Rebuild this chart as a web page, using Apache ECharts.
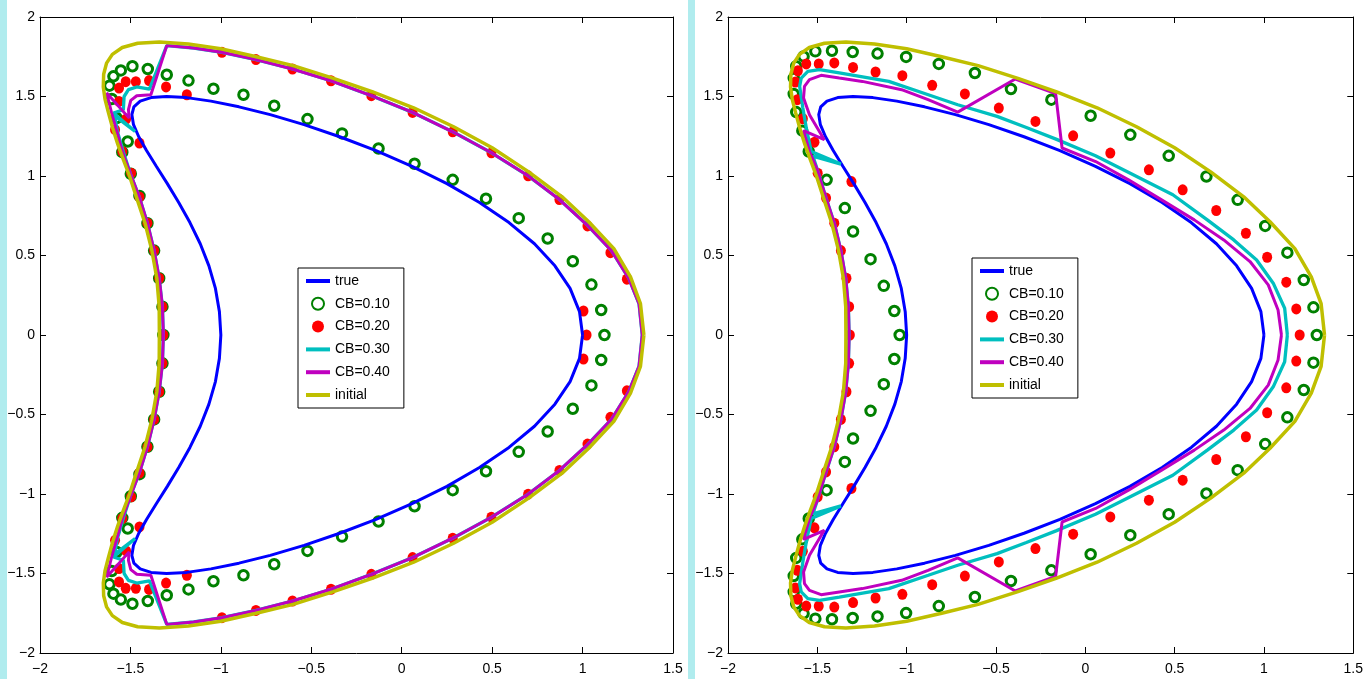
<!DOCTYPE html>
<html><head><meta charset="utf-8">
<script src="https://cdn.jsdelivr.net/npm/echarts@6/dist/echarts.min.js"></script>
<style>html,body{margin:0;padding:0;background:#fff}#c{width:1366px;height:679px}</style>
</head><body><div id="c"></div>
<script>
// ---- data ----
const xTickLabels = ['\u22122','\u22121.5','\u22121','\u22120.5','0','0.5','1','1.5'];
const yTickLabels = ['\u22122','\u22121.5','\u22121','\u22120.5','0','0.5','1','1.5','2'];

const trueCurve = [[1.000,0],[0.983,0.147],[0.931,0.293],[0.847,0.435],[0.734,0.574],[0.593,0.707],[0.430,0.833],[0.250,0.952],[0.057,1.061],[-0.142,1.160],[-0.343,1.247],[-0.540,1.323],[-0.727,1.386],[-0.900,1.435],[-1.055,1.471],[-1.189,1.493],[-1.300,1.500],[-1.386,1.493],[-1.446,1.471],[-1.481,1.435],[-1.492,1.386],[-1.483,1.323],[-1.454,1.247],[-1.411,1.160],[-1.357,1.061],[-1.296,0.952],[-1.233,0.833],[-1.171,0.707],[-1.114,0.574],[-1.066,0.435],[-1.030,0.293],[-1.008,0.147],[-1.000,0],
[-1.008,-0.147],[-1.030,-0.293],[-1.066,-0.435],[-1.114,-0.574],[-1.171,-0.707],[-1.233,-0.833],[-1.296,-0.952],[-1.357,-1.061],[-1.411,-1.160],[-1.454,-1.247],[-1.483,-1.323],[-1.492,-1.386],[-1.481,-1.435],[-1.446,-1.471],[-1.386,-1.493],[-1.300,-1.500],[-1.189,-1.493],[-1.055,-1.471],[-0.900,-1.435],[-0.727,-1.386],[-0.540,-1.323],[-0.343,-1.247],[-0.142,-1.160],[0.057,-1.061],[0.250,-0.952],[0.430,-0.833],[0.593,-0.707],[0.734,-0.574],[0.847,-0.435],[0.931,-0.293],[0.983,-0.147],[1.000,0]];

const initialCurve = [[1.339,0],[1.320,0.197],[1.265,0.365],[1.173,0.543],[1.034,0.712],[0.887,0.869],[0.702,1.026],[0.500,1.178],[0.287,1.310],[0.066,1.429],[-0.164,1.530],[-0.377,1.614],[-0.600,1.694],[-0.810,1.752],[-1.000,1.800],[-1.180,1.830],[-1.340,1.843],[-1.460,1.835],[-1.545,1.808],[-1.600,1.765],[-1.632,1.710],[-1.648,1.640],[-1.650,1.560],[-1.640,1.480],[-1.622,1.400],[-1.598,1.300],[-1.570,1.200],[-1.538,1.100],[-1.505,1.000],[-1.465,0.861],[-1.419,0.703],[-1.382,0.535],[-1.354,0.357],[-1.341,0.178],[-1.340,0],
[-1.341,-0.178],[-1.354,-0.357],[-1.382,-0.535],[-1.419,-0.703],[-1.465,-0.861],[-1.505,-1.000],[-1.538,-1.100],[-1.570,-1.200],[-1.598,-1.300],[-1.622,-1.400],[-1.640,-1.480],[-1.650,-1.560],[-1.648,-1.640],[-1.632,-1.710],[-1.600,-1.765],[-1.545,-1.808],[-1.460,-1.835],[-1.340,-1.843],[-1.180,-1.830],[-1.000,-1.800],[-0.810,-1.752],[-0.600,-1.694],[-0.377,-1.614],[-0.164,-1.530],[0.066,-1.429],[0.287,-1.310],[0.500,-1.178],[0.702,-1.026],[0.887,-0.869],[1.034,-0.712],[1.173,-0.543],[1.265,-0.365],[1.320,-0.197],[1.339,0]];

// left panel
const cb10Left = [[1.121,0],[1.103,0.157],[1.049,0.317],[0.946,0.464],[0.807,0.607],[0.647,0.735],[0.466,0.857],[0.282,0.976],[0.071,1.077],[-0.128,1.173],[-0.330,1.268],[-0.521,1.358],[-0.705,1.442],[-0.875,1.511],[-1.041,1.549],[-1.179,1.600],[-1.299,1.637],[-1.404,1.673],[-1.489,1.690],[-1.553,1.664],[-1.594,1.627],[-1.616,1.568],[-1.603,1.484],[-1.576,1.365],[-1.515,1.217],[-1.545,1.150],[-1.498,1.014],[-1.450,0.875],[-1.406,0.703],[-1.369,0.531],[-1.341,0.357],[-1.323,0.178],[-1.318,0],
[-1.323,-0.178],[-1.341,-0.357],[-1.369,-0.531],[-1.406,-0.703],[-1.450,-0.875],[-1.498,-1.014],[-1.545,-1.150],[-1.515,-1.217],[-1.576,-1.365],[-1.603,-1.484],[-1.616,-1.568],[-1.594,-1.627],[-1.553,-1.664],[-1.489,-1.690],[-1.404,-1.673],[-1.299,-1.637],[-1.179,-1.600],[-1.041,-1.549],[-0.875,-1.511],[-0.705,-1.442],[-0.521,-1.358],[-0.330,-1.268],[-0.128,-1.173],[0.071,-1.077],[0.282,-0.976],[0.466,-0.857],[0.647,-0.735],[0.807,-0.607],[0.946,-0.464],[1.049,-0.317],[1.103,-0.157]];

const cb20Left = [[1.022,0],[1.005,0.151],[1.245,0.351],[1.154,0.518],[1.027,0.686],[0.872,0.852],[0.699,1.001],[0.496,1.146],[0.282,1.278],[0.060,1.400],[-0.168,1.505],[-0.391,1.599],[-0.604,1.673],[-0.806,1.732],[-0.994,1.778],[-1.188,1.511],[-1.303,1.560],[-1.397,1.600],[-1.470,1.593],[-1.526,1.593],[-1.563,1.553],[-1.563,1.469],[-1.524,1.358],[-1.585,1.291],[-1.450,1.207],[-1.545,1.154],[-1.496,1.018],[-1.450,0.868],[-1.406,0.703],[-1.369,0.531],[-1.341,0.357],[-1.323,0.178],[-1.318,0],
[-1.323,-0.178],[-1.341,-0.357],[-1.369,-0.531],[-1.406,-0.703],[-1.450,-0.868],[-1.496,-1.018],[-1.545,-1.154],[-1.450,-1.207],[-1.585,-1.291],[-1.524,-1.358],[-1.563,-1.469],[-1.563,-1.553],[-1.526,-1.593],[-1.470,-1.593],[-1.397,-1.600],[-1.303,-1.560],[-1.188,-1.511],[-0.994,-1.778],[-0.806,-1.732],[-0.604,-1.673],[-0.391,-1.599],[-0.168,-1.505],[0.060,-1.400],[0.282,-1.278],[0.496,-1.146],[0.699,-1.001],[0.872,-0.852],[1.027,-0.686],[1.154,-0.518],[1.245,-0.351],[1.005,-0.151]];

const cb30Left = [[1.330,0],[1.312,0.197],[1.255,0.358],[1.160,0.530],[1.027,0.690],[0.872,0.852],[0.699,1.001],[0.496,1.146],[0.282,1.278],[0.060,1.400],[-0.168,1.505],[-0.391,1.599],[-0.604,1.673],[-0.806,1.732],[-0.994,1.778],[-1.150,1.805],[-1.299,1.820],[-1.395,1.547],[-1.465,1.560],[-1.511,1.543],[-1.535,1.500],[-1.539,1.417],[-1.594,1.396],[-1.474,1.280],[-1.588,1.380],[-1.572,1.280],[-1.540,1.154],[-1.500,1.014],[-1.450,0.865],[-1.406,0.703],[-1.369,0.531],[-1.341,0.357],[-1.323,0.178],[-1.318,0],
[-1.323,-0.178],[-1.341,-0.357],[-1.369,-0.531],[-1.406,-0.703],[-1.450,-0.865],[-1.500,-1.014],[-1.540,-1.154],[-1.572,-1.280],[-1.588,-1.380],[-1.474,-1.280],[-1.594,-1.396],[-1.539,-1.417],[-1.535,-1.500],[-1.511,-1.543],[-1.465,-1.560],[-1.395,-1.547],[-1.299,-1.820],[-1.150,-1.805],[-0.994,-1.778],[-0.806,-1.732],[-0.604,-1.673],[-0.391,-1.599],[-0.168,-1.505],[0.060,-1.400],[0.282,-1.278],[0.496,-1.146],[0.699,-1.001],[0.872,-0.852],[1.027,-0.690],[1.160,-0.530],[1.255,-0.358],[1.312,-0.197],[1.330,0]];

const cb40Left = [[1.330,0],[1.312,0.197],[1.255,0.358],[1.160,0.530],[1.027,0.690],[0.872,0.852],[0.699,1.001],[0.496,1.146],[0.282,1.278],[0.060,1.400],[-0.168,1.505],[-0.391,1.599],[-0.604,1.673],[-0.806,1.732],[-0.994,1.778],[-1.150,1.805],[-1.299,1.820],[-1.387,1.511],[-1.465,1.505],[-1.498,1.476],[-1.511,1.417],[-1.507,1.364],[-1.631,1.522],[-1.605,1.400],[-1.575,1.280],[-1.545,1.154],[-1.500,1.014],[-1.450,0.865],[-1.406,0.703],[-1.369,0.531],[-1.341,0.357],[-1.323,0.178],[-1.318,0],
[-1.323,-0.178],[-1.341,-0.357],[-1.369,-0.531],[-1.406,-0.703],[-1.450,-0.865],[-1.500,-1.014],[-1.545,-1.154],[-1.575,-1.280],[-1.605,-1.400],[-1.631,-1.522],[-1.507,-1.364],[-1.511,-1.417],[-1.498,-1.476],[-1.465,-1.505],[-1.387,-1.511],[-1.299,-1.820],[-1.150,-1.805],[-0.994,-1.778],[-0.806,-1.732],[-0.604,-1.673],[-0.391,-1.599],[-0.168,-1.505],[0.060,-1.400],[0.282,-1.278],[0.496,-1.146],[0.699,-1.001],[0.872,-0.852],[1.027,-0.690],[1.160,-0.530],[1.255,-0.358],[1.312,-0.197],[1.330,0]];

// right panel
const cb10Right = [[1.296,0],[1.277,0.174],[1.223,0.346],[1.131,0.518],[1.007,0.686],[0.853,0.850],[0.678,0.997],[0.467,1.127],[0.252,1.259],[0.030,1.379],[-0.190,1.480],[-0.416,1.547],[-0.618,1.648],[-0.820,1.705],[-1.003,1.749],[-1.163,1.770],[-1.302,1.780],[-1.418,1.788],[-1.511,1.784],[-1.577,1.752],[-1.618,1.690],[-1.632,1.616],[-1.632,1.516],[-1.618,1.402],[-1.584,1.285],[-1.548,1.154],[-1.448,0.976],[-1.346,0.798],[-1.300,0.651],[-1.202,0.477],[-1.128,0.309],[-1.069,0.151],[-1.039,0],
[-1.069,-0.151],[-1.128,-0.309],[-1.202,-0.477],[-1.300,-0.651],[-1.346,-0.798],[-1.448,-0.976],[-1.548,-1.154],[-1.584,-1.285],[-1.618,-1.402],[-1.632,-1.516],[-1.632,-1.616],[-1.618,-1.690],[-1.577,-1.752],[-1.511,-1.784],[-1.418,-1.788],[-1.302,-1.780],[-1.163,-1.770],[-1.003,-1.749],[-0.820,-1.705],[-0.618,-1.648],[-0.416,-1.547],[-0.190,-1.480],[0.030,-1.379],[0.252,-1.259],[0.467,-1.127],[0.678,-0.997],[0.853,-0.850],[1.007,-0.686],[1.131,-0.518],[1.223,-0.346],[1.277,-0.174]];

const cb20Right = [[1.200,0],[1.181,0.164],[1.125,0.332],[1.018,0.489],[0.899,0.640],[0.733,0.783],[0.545,0.913],[0.356,1.039],[0.140,1.144],[-0.068,1.253],[-0.279,1.343],[-0.484,1.427],[-0.674,1.516],[-0.857,1.570],[-1.024,1.631],[-1.174,1.654],[-1.300,1.683],[-1.405,1.711],[-1.492,1.705],[-1.562,1.705],[-1.609,1.662],[-1.623,1.591],[-1.612,1.480],[-1.581,1.360],[-1.516,1.213],[-1.498,1.018],[-1.309,0.965],[-1.451,0.861],[-1.405,0.703],[-1.368,0.531],[-1.337,0.357],[-1.322,0.178],[-1.318,0],
[-1.322,-0.178],[-1.337,-0.357],[-1.368,-0.531],[-1.405,-0.703],[-1.451,-0.861],[-1.309,-0.965],[-1.498,-1.018],[-1.516,-1.213],[-1.581,-1.360],[-1.612,-1.480],[-1.623,-1.591],[-1.609,-1.662],[-1.562,-1.705],[-1.492,-1.705],[-1.405,-1.711],[-1.300,-1.683],[-1.174,-1.654],[-1.024,-1.631],[-0.857,-1.570],[-0.674,-1.516],[-0.484,-1.427],[-0.279,-1.343],[-0.068,-1.253],[0.140,-1.144],[0.356,-1.039],[0.545,-0.913],[0.733,-0.783],[0.899,-0.640],[1.018,-0.489],[1.125,-0.332],[1.181,-0.164]];

const cb30Right = [[1.131,0],[1.116,0.168],[1.052,0.326],[0.959,0.472],[0.831,0.598],[0.683,0.724],[0.490,0.882],[0.260,1.012],[0.057,1.127],[-0.164,1.232],[-0.330,1.305],[-0.494,1.375],[-0.714,1.448],[-0.879,1.511],[-1.100,1.595],[-1.377,1.648],[-1.488,1.669],[-1.553,1.658],[-1.590,1.616],[-1.599,1.564],[-1.581,1.428],[-1.560,1.290],[-1.534,1.154],[-1.368,1.075],[-1.525,1.125],[-1.500,1.040],[-1.451,0.861],[-1.405,0.703],[-1.368,0.531],[-1.341,0.357],[-1.326,0.178],[-1.322,0],
[-1.326,-0.178],[-1.341,-0.357],[-1.368,-0.531],[-1.405,-0.703],[-1.451,-0.861],[-1.500,-1.040],[-1.525,-1.125],[-1.368,-1.075],[-1.534,-1.154],[-1.560,-1.290],[-1.581,-1.428],[-1.599,-1.564],[-1.590,-1.616],[-1.553,-1.658],[-1.488,-1.669],[-1.377,-1.648],[-1.100,-1.595],[-0.879,-1.511],[-0.714,-1.448],[-0.494,-1.375],[-0.330,-1.305],[-0.164,-1.232],[0.057,-1.127],[0.260,-1.012],[0.490,-0.882],[0.683,-0.724],[0.831,-0.598],[0.959,-0.472],[1.052,-0.326],[1.116,-0.168],[1.131,0]];

const cb40Right = [[1.098,0],[1.079,0.157],[1.024,0.315],[0.922,0.462],[0.775,0.598],[0.610,0.724],[0.427,0.850],[0.242,0.976],[0.058,1.091],[-0.130,1.176],[-0.166,1.518],[-0.392,1.610],[-0.714,1.402],[-0.880,1.480],[-1.028,1.543],[-1.248,1.595],[-1.377,1.616],[-1.479,1.633],[-1.544,1.606],[-1.572,1.564],[-1.577,1.491],[-1.544,1.385],[-1.461,1.228],[-1.577,1.285],[-1.544,1.154],[-1.500,1.040],[-1.451,0.861],[-1.405,0.703],[-1.368,0.531],[-1.341,0.357],[-1.326,0.178],[-1.322,0],
[-1.326,-0.178],[-1.341,-0.357],[-1.368,-0.531],[-1.405,-0.703],[-1.451,-0.861],[-1.500,-1.040],[-1.544,-1.154],[-1.577,-1.285],[-1.461,-1.228],[-1.544,-1.385],[-1.577,-1.491],[-1.572,-1.564],[-1.544,-1.606],[-1.479,-1.633],[-1.377,-1.616],[-1.248,-1.595],[-1.028,-1.543],[-0.880,-1.480],[-0.714,-1.402],[-0.392,-1.610],[-0.166,-1.518],[-0.130,-1.176],[0.058,-1.091],[0.242,-0.976],[0.427,-0.850],[0.610,-0.724],[0.775,-0.598],[0.922,-0.462],[1.024,-0.315],[1.079,-0.157],[1.098,0]];

const seriesNames = ['true','CB=0.10','CB=0.20','CB=0.30','CB=0.40','initial'];

// ---- chart ----
const FONT = '"Liberation Sans", Arial, sans-serif';
const C = {blue:'#0000ff', green:'#008000', red:'#ff0000', cyan:'#00bfbf', magenta:'#bf00bf', olive:'#bfbf00'};
const LINE_ICON = 'path://M0,0 L24,0 L24,4 L0,4 Z';
const chart = echarts.init(document.getElementById('c'), null, {renderer:'canvas'});

function xFmt(v){ const i = Math.round((v + 2) / 0.5); return xTickLabels[i] || ''; }
function yFmt(v){ const i = Math.round((v + 2) / 0.5); return yTickLabels[i] || ''; }

function xAx(grid, pos, labels){
  return {gridIndex:grid, type:'value', min:-2, max:1.5, interval:0.5, position:pos,
    axisLine:{show:true, onZero:false, lineStyle:{color:'#000', width:1}},
    axisTick:{show:true, inside:true, length:6, lineStyle:{color:'#000', width:1}},
    axisLabel:{show:labels, formatter:xFmt, color:'#000', fontSize:14, fontFamily:FONT, margin:9},
    splitLine:{show:false}};
}
function yAx(grid, pos, labels){
  return {gridIndex:grid, type:'value', min:-2, max:2, interval:0.5, position:pos,
    axisLine:{show:true, onZero:false, lineStyle:{color:'#000', width:1}},
    axisTick:{show:true, inside:true, length:6, lineStyle:{color:'#000', width:1}},
    axisLabel:{show:labels, formatter:yFmt, color:'#000', fontSize:14, fontFamily:FONT, margin:5},
    splitLine:{show:false}};
}

function panel(ax, sets){
  const line = (name, data, color, w) => ({name, type:'line', data, xAxisIndex:ax, yAxisIndex:ax,
    symbol:'none', showSymbol:false, smooth:false, lineStyle:{color, width:w, opacity:1}, itemStyle:{color},
    animation:false, silent:true});
  return [
    line('true', trueCurve, C.blue, 3),
    {name:'CB=0.10', type:'scatter', data:sets[0], xAxisIndex:ax, yAxisIndex:ax, symbol:'circle', symbolSize:9.5,
      itemStyle:{color:'rgba(255,255,255,0)', borderColor:C.green, borderWidth:3, opacity:1}, animation:false, silent:true},
    {name:'CB=0.20', type:'scatter', data:sets[1], xAxisIndex:ax, yAxisIndex:ax, symbol:'circle', symbolSize:[10,11],
      itemStyle:{color:C.red, opacity:1}, animation:false, silent:true},
    line('CB=0.30', sets[2], C.cyan, 3.3),
    line('CB=0.40', sets[3], C.magenta, 3),
    line('initial', initialCurve, C.olive, 3.5)
  ];
}

function legend(left, top){
  return {show:true, orient:'vertical', left, top, backgroundColor:'#fff', borderColor:'#000', borderWidth:1,
    padding:[6,14,6,8], itemGap:8.8, itemWidth:24, itemHeight:12,
    data:[
      {name:'true', icon:LINE_ICON, itemStyle:{color:C.blue}},
      {name:'CB=0.10', icon:'circle'},
      {name:'CB=0.20', icon:'circle'},
      {name:'CB=0.30', icon:LINE_ICON, itemStyle:{color:C.cyan}},
      {name:'CB=0.40', icon:LINE_ICON, itemStyle:{color:C.magenta}},
      {name:'initial', icon:LINE_ICON, itemStyle:{color:C.olive}}
    ],
    textStyle:{color:'#000', fontSize:14, fontFamily:FONT}, selectedMode:false};
}

chart.setOption({
  backgroundColor:'#fff',
  animation:false,
  graphic:[
    {type:'rect', shape:{x:0, y:0, width:7, height:679}, style:{fill:'#b0ecee'}, z:-10},
    {type:'rect', shape:{x:688, y:0, width:7, height:679}, style:{fill:'#b0ecee'}, z:-10}
  ],
  grid:[
    {left:40, top:17, width:633, height:636, containLabel:false},
    {left:728, top:17, width:633, height:636, containLabel:false}
  ],
  xAxis:[xAx(0,'bottom',true), xAx(1,'bottom',true), xAx(0,'top',false), xAx(1,'top',false)],
  yAxis:[yAx(0,'left',true), yAx(1,'left',true), yAx(0,'right',false), yAx(1,'right',false)],
  legend:[legend(298,268), legend(972,258)],
  series:[].concat(
    panel(0, [cb10Left, cb20Left, cb30Left, cb40Left]),
    panel(1, [cb10Right, cb20Right, cb30Right, cb40Right])
  )
});
</script></body></html>
